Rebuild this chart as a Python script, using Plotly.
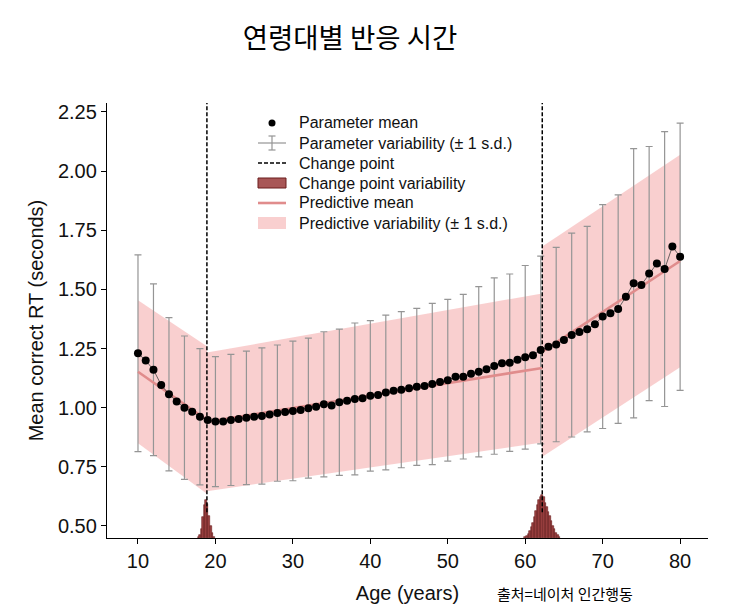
import plotly.graph_objects as go

# ---------------- data ----------------
ages = list(range(10, 81))
rt_mean = [1.230, 1.199, 1.160, 1.096, 1.057, 1.026, 1.000, 0.983, 0.962, 0.948,
           0.941, 0.941, 0.948, 0.952, 0.957, 0.962, 0.965, 0.971, 0.977, 0.982,
           0.986, 0.990, 0.998, 1.004, 1.014, 1.009, 1.023, 1.029, 1.037, 1.040,
           1.050, 1.054, 1.064, 1.072, 1.076, 1.082, 1.088, 1.092, 1.100, 1.108,
           1.116, 1.131, 1.131, 1.143, 1.152, 1.162, 1.176, 1.188, 1.190, 1.203,
           1.213, 1.222, 1.244, 1.258, 1.267, 1.286, 1.307, 1.320, 1.332, 1.353,
           1.385, 1.399, 1.417, 1.469, 1.526, 1.519, 1.567, 1.610, 1.586, 1.681,
           1.638]

sd_ages = list(range(10, 81, 2))
rt_sd = [0.416, 0.363, 0.324, 0.303, 0.288, 0.275, 0.277, 0.282, 0.288, 0.288,
         0.295, 0.296, 0.307, 0.309, 0.321, 0.318, 0.327, 0.330, 0.332, 0.341,
         0.342, 0.348, 0.360, 0.373, 0.375, 0.388, 0.397, 0.411, 0.431, 0.434,
         0.473, 0.483, 0.569, 0.537, 0.581, 0.565]

change_points = [18.9, 62.2]

# predictive model: piecewise linear segments (start/end age, mean, sd)
seg_start = [10, 18.9, 62.2]
seg_end = [18.9, 62.2, 80]
seg_mean_start = [1.152, 0.940, 1.237]
seg_mean_end = [0.948, 1.168, 1.620]
seg_sd_start = [0.302, 0.293, 0.444]
seg_sd_end = [0.312, 0.315, 0.449]

# change point posterior histograms
cp1_bins = [17.8, 18.0, 18.2, 18.4, 18.6, 18.8, 19.0, 19.2, 19.4, 19.6, 19.8]
cp1_density = [0.004, 0.012, 0.040, 0.090, 0.140, 0.160, 0.145, 0.095, 0.050, 0.020, 0.006]
cp2_bins = [60.0, 60.2, 60.4, 60.6, 60.8, 61.0, 61.2, 61.4, 61.6, 61.8, 62.0, 62.2,
            62.4, 62.6, 62.8, 63.0, 63.2, 63.4, 63.6, 63.8, 64.0, 64.2, 64.4]
cp2_density = [0.004, 0.010, 0.018, 0.030, 0.045, 0.065, 0.090, 0.115, 0.140, 0.160,
               0.175, 0.182, 0.172, 0.150, 0.130, 0.112, 0.092, 0.072, 0.052, 0.036,
               0.022, 0.012, 0.005]

x_ticks = [10, 20, 30, 40, 50, 60, 70, 80]
y_ticks = [0.50, 0.75, 1.00, 1.25, 1.50, 1.75, 2.00, 2.25]

legend_labels = ["Parameter mean", "Parameter variability (± 1 s.d.)", "Change point",
                 "Change point variability", "Predictive mean",
                 "Predictive variability (± 1 s.d.)"]

# ---------------- style ----------------
OFF = 8  # default page body margin; figure is shrunk so it lands where the reference is
W, H = 737 - OFF, 613 - OFF
ML, MR, MT, MB = 107 - OFF, 29, 103 - OFF, 75
PW, PH = W - ML - MR, H - MT - MB
X_RANGE = [6.0, 83.6]
Y_RANGE = [0.449, 2.288]
FONT = "Liberation Sans, Arial, sans-serif"
KFONT = "Noto Sans CJK KR, sans-serif"
BAND = "rgba(246,178,178,0.62)"
PRED_LINE = "#e08c8c"
CP_FILL = "#9c4242"
ERR = "#959595"
DASH = "4px,2px"


def px_x(p):
    return (p - OFF - ML) / PW


def px_y(p):
    return 1 - (p - OFF - MT) / PH


fig = go.Figure()

# predictive variability bands
for i in range(len(seg_start)):
    xs = [seg_start[i], seg_end[i], seg_end[i], seg_start[i], seg_start[i]]
    ys = [seg_mean_start[i] + seg_sd_start[i], seg_mean_end[i] + seg_sd_end[i],
          seg_mean_end[i] - seg_sd_end[i], seg_mean_start[i] - seg_sd_start[i],
          seg_mean_start[i] + seg_sd_start[i]]
    fig.add_trace(go.Scatter(
        x=xs, y=ys, mode="lines", fill="toself", fillcolor=BAND,
        line=dict(width=0, color=BAND), hoverinfo="skip", showlegend=False))

# parameter variability (error bars at even ages)
sd_means = [rt_mean[ages.index(a)] for a in sd_ages]
fig.add_trace(go.Scatter(
    x=sd_ages, y=sd_means, mode="markers",
    marker=dict(size=1, color="rgba(150,150,150,0)"),
    error_y=dict(type="data", array=rt_sd, visible=True, color=ERR,
                 thickness=1.2, width=3.5),
    showlegend=False))

# change point histograms
cp_x = cp1_bins + cp2_bins
cp_h = cp1_density + cp2_density
fig.add_trace(go.Bar(
    x=cp_x, y=cp_h, base=Y_RANGE[0], width=0.2,
    marker=dict(color=CP_FILL, line=dict(color="#6a1c1c", width=0.6)),
    showlegend=False))

# change point dashed lines
cx, cy = [], []
for c in change_points:
    cx += [c, c, None]
    cy += [Y_RANGE[0] + max(cp_h) * 0.6, Y_RANGE[1], None]
fig.add_trace(go.Scatter(
    x=cx, y=cy, mode="lines", line=dict(color="black", width=1.5, dash=DASH),
    hoverinfo="skip", showlegend=False))

# predictive mean
pxs, pys = [], []
for i in range(len(seg_start)):
    pxs += [seg_start[i], seg_end[i], None]
    pys += [seg_mean_start[i], seg_mean_end[i], None]
fig.add_trace(go.Scatter(
    x=pxs, y=pys, mode="lines", line=dict(color=PRED_LINE, width=2.6),
    connectgaps=False, showlegend=False))

# parameter mean dots
fig.add_trace(go.Scatter(
    x=ages, y=rt_mean, mode="lines", line=dict(color="#444444", width=0.8),
    showlegend=False, hoverinfo="skip"))
fig.add_trace(go.Scatter(
    x=ages, y=rt_mean, mode="markers",
    marker=dict(size=8, color="black"), showlegend=False))

# ---------------- manual legend ----------------
row_y = [123, 143, 163, 183, 203, 223]
icon_l, icon_r, icon_c = 258, 286, 272
text_x = 297
shapes = []
# dot
shapes.append(dict(type="circle", xref="paper", yref="paper",
                   x0=px_x(icon_c - 3.5), x1=px_x(icon_c + 3.5),
                   y0=px_y(row_y[0] + 3.5), y1=px_y(row_y[0] - 3.5),
                   fillcolor="black", line=dict(width=0)))
# error bar icon
ly = row_y[1]
shapes.append(dict(type="line", xref="paper", yref="paper", x0=px_x(icon_l), x1=px_x(icon_r),
                   y0=px_y(ly), y1=px_y(ly), line=dict(color=ERR, width=1.2)))
shapes.append(dict(type="line", xref="paper", yref="paper", x0=px_x(icon_c), x1=px_x(icon_c),
                   y0=px_y(ly - 7), y1=px_y(ly + 7), line=dict(color=ERR, width=1.2)))
for dy in (-7, 7):
    shapes.append(dict(type="line", xref="paper", yref="paper",
                       x0=px_x(icon_c - 3.5), x1=px_x(icon_c + 3.5),
                       y0=px_y(ly + dy), y1=px_y(ly + dy), line=dict(color=ERR, width=1.2)))
# dashed
shapes.append(dict(type="line", xref="paper", yref="paper", x0=px_x(icon_l), x1=px_x(icon_r),
                   y0=px_y(row_y[2]), y1=px_y(row_y[2]),
                   line=dict(color="black", width=1.4, dash=DASH)))
# change point variability rect
shapes.append(dict(type="rect", xref="paper", yref="paper", x0=px_x(icon_l), x1=px_x(icon_r),
                   y0=px_y(row_y[3] + 5), y1=px_y(row_y[3] - 5),
                   fillcolor="#a85656", line=dict(color="#6a1c1c", width=1)))
# predictive mean
shapes.append(dict(type="line", xref="paper", yref="paper", x0=px_x(icon_l), x1=px_x(icon_r),
                   y0=px_y(row_y[4]), y1=px_y(row_y[4]),
                   line=dict(color=PRED_LINE, width=2.6)))
# predictive variability
shapes.append(dict(type="rect", xref="paper", yref="paper", x0=px_x(icon_l), x1=px_x(icon_r),
                   y0=px_y(row_y[5] + 6), y1=px_y(row_y[5] - 6),
                   fillcolor=BAND, line=dict(width=0)))

for lbl, ry in zip(legend_labels, row_y):
    fig.add_annotation(text=lbl, xref="paper", yref="paper", x=px_x(text_x), y=px_y(ry),
                       xanchor="left", yanchor="middle", showarrow=False,
                       font=dict(family=FONT, size=16, color="#111111"))

fig.update_layout(
    width=W, height=H,
    margin=dict(l=ML, r=MR, t=MT, b=MB),
    paper_bgcolor="white", plot_bgcolor="white",
    font=dict(family=FONT, color="#111111"),
    title=dict(text="연령대별 반응 시간", x=(350 - OFF) / W, xref="container",
               xanchor="center", y=1 - (38 - OFF) / H, yref="container", yanchor="middle",
               font=dict(family=KFONT, size=27.5, color="black")),
    showlegend=False,
    shapes=shapes,
    bargap=0,
    xaxis=dict(range=X_RANGE, tickvals=x_ticks, ticks="outside", ticklen=5,
               tickwidth=1.2, tickcolor="black", showline=True, linecolor="black",
               linewidth=1.3, showgrid=False, zeroline=False, automargin=False,
               tickfont=dict(size=20, family=FONT, color="#111111"),
               title=dict(text="Age (years)", standoff=14,
                          font=dict(size=20, family=FONT, color="#111111"))),
    yaxis=dict(range=Y_RANGE, tickvals=y_ticks, tickformat=".2f", ticks="outside",
               ticklen=5, tickwidth=1.2, tickcolor="black", showline=True,
               linecolor="black", linewidth=1.3, showgrid=False, zeroline=False,
               automargin=False,
               tickfont=dict(size=20, family=FONT, color="#111111"),
               title=dict(text="Mean correct RT (seconds)", standoff=8,
                          font=dict(size=20, family=FONT, color="#111111"))),
)

fig.add_annotation(text="출처=네이처 인간행동", xref="paper", yref="paper",
                   x=px_x(495), xanchor="left",
                   y=px_y(593), yanchor="middle", showarrow=False,
                   font=dict(family=KFONT, size=15, color="black"))

fig.write_html("out.html")
